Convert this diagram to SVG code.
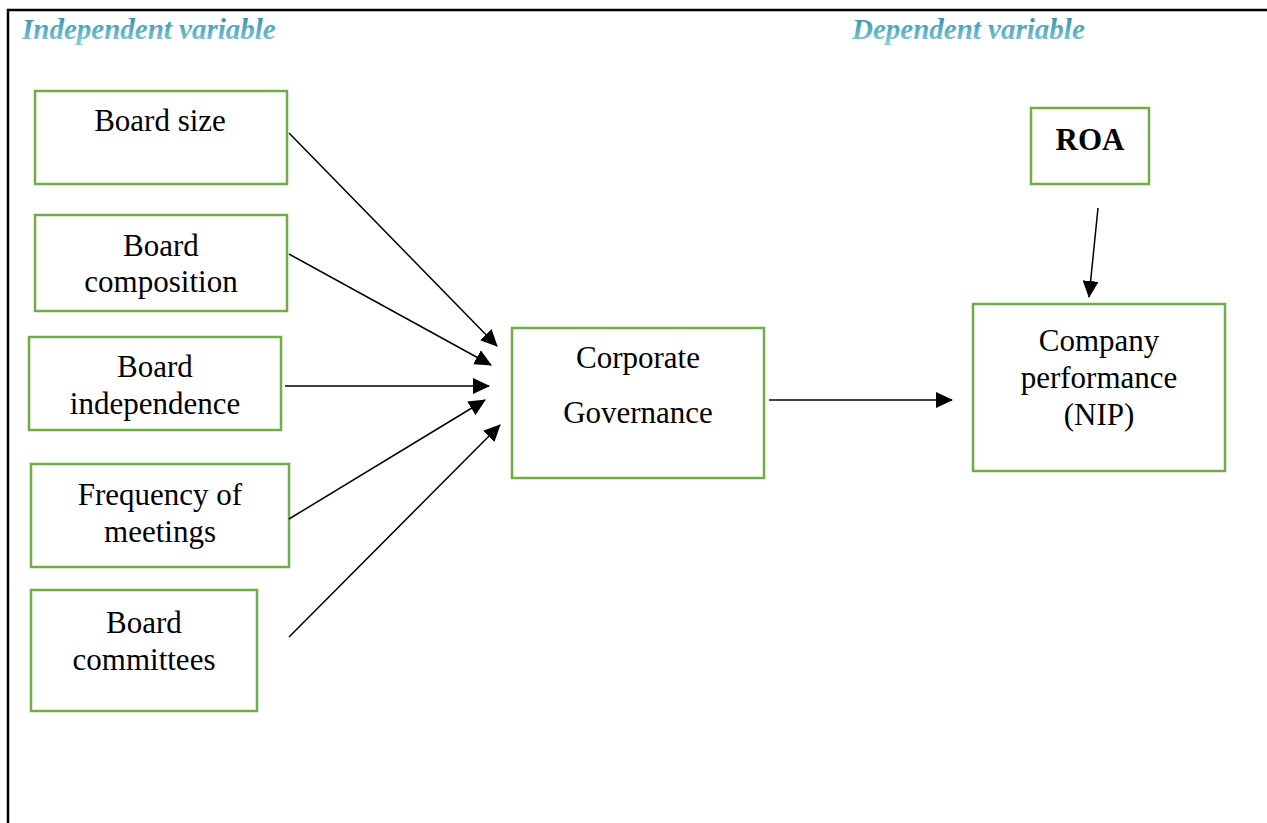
<svg xmlns="http://www.w3.org/2000/svg" width="1267" height="823" viewBox="0 0 1267 823">
<style>
.box{fill:#fff;stroke:#70AD47;stroke-width:2.5}
.t{font-family:"Liberation Serif","Times New Roman",serif;font-size:31px;fill:#000;text-anchor:middle}
.b{font-weight:bold}
.h{font-family:"Liberation Serif","Times New Roman",serif;font-size:29px;font-weight:bold;font-style:italic;fill:url(#tg)}
.c{stroke:#000;stroke-width:1.5;fill:none;marker-end:url(#ah)}
</style>
<defs>
<linearGradient id="tg" x1="0" y1="0" x2="0" y2="1">
<stop offset="0" stop-color="#2a87a2"/>
<stop offset="1" stop-color="#86cfdd"/>
</linearGradient>
<marker id="ah" markerUnits="userSpaceOnUse" markerWidth="18" markerHeight="16" refX="16" refY="8" orient="auto">
<path d="M0,0 L17,8 L0,16 Z" fill="#000"/>
</marker>
</defs>
<rect width="1267" height="823" fill="#fff"/>
<path d="M8,823 V10 H1267" fill="none" stroke="#000" stroke-width="2.5"/>
<text class="h" x="22" y="39">Independent variable</text>
<text class="h" x="852" y="39">Dependent variable</text>
<g id="n-board-size"><rect class="box" x="35" y="91" width="252" height="93"/><text class="t" x="160" y="131">Board size</text></g>
<g id="n-board-composition"><rect class="box" x="35" y="215" width="252" height="96"/><text class="t" x="161" y="256">Board</text><text class="t" x="161" y="292">composition</text></g>
<g id="n-board-independence"><rect class="box" x="29" y="337" width="252" height="93"/><text class="t" x="155" y="377">Board</text><text class="t" x="155" y="414">independence</text></g>
<g id="n-frequency"><rect class="box" x="31" y="464" width="258" height="103"/><text class="t" x="160" y="505">Frequency of</text><text class="t" x="160" y="542">meetings</text></g>
<g id="n-committees"><rect class="box" x="31" y="590" width="226" height="121"/><text class="t" x="144" y="633">Board</text><text class="t" x="144" y="670">committees</text></g>
<g id="n-cg"><rect class="box" x="512" y="328" width="252" height="150"/><text class="t" x="638" y="368">Corporate</text><text class="t" x="638" y="423">Governance</text></g>
<g id="n-roa"><rect class="box" x="1031" y="108" width="118" height="76"/><text class="t b" x="1090" y="150">ROA</text></g>
<g id="n-perf"><rect class="box" x="973" y="304" width="252" height="167"/><text class="t" x="1099" y="351">Company</text><text class="t" x="1099" y="388">performance</text><text class="t" x="1099" y="425">(NIP)</text></g>
<g id="connectors">
<line class="c" x1="289" y1="133" x2="497" y2="346"/>
<line class="c" x1="289" y1="254" x2="491" y2="365"/>
<line class="c" x1="285" y1="386" x2="489" y2="386"/>
<line class="c" x1="289" y1="519" x2="485" y2="400"/>
<line class="c" x1="289" y1="637" x2="500" y2="425"/>
<line class="c" x1="769" y1="400" x2="952" y2="400"/>
<line class="c" x1="1098" y1="208" x2="1089" y2="297"/>
</g>
</svg>
